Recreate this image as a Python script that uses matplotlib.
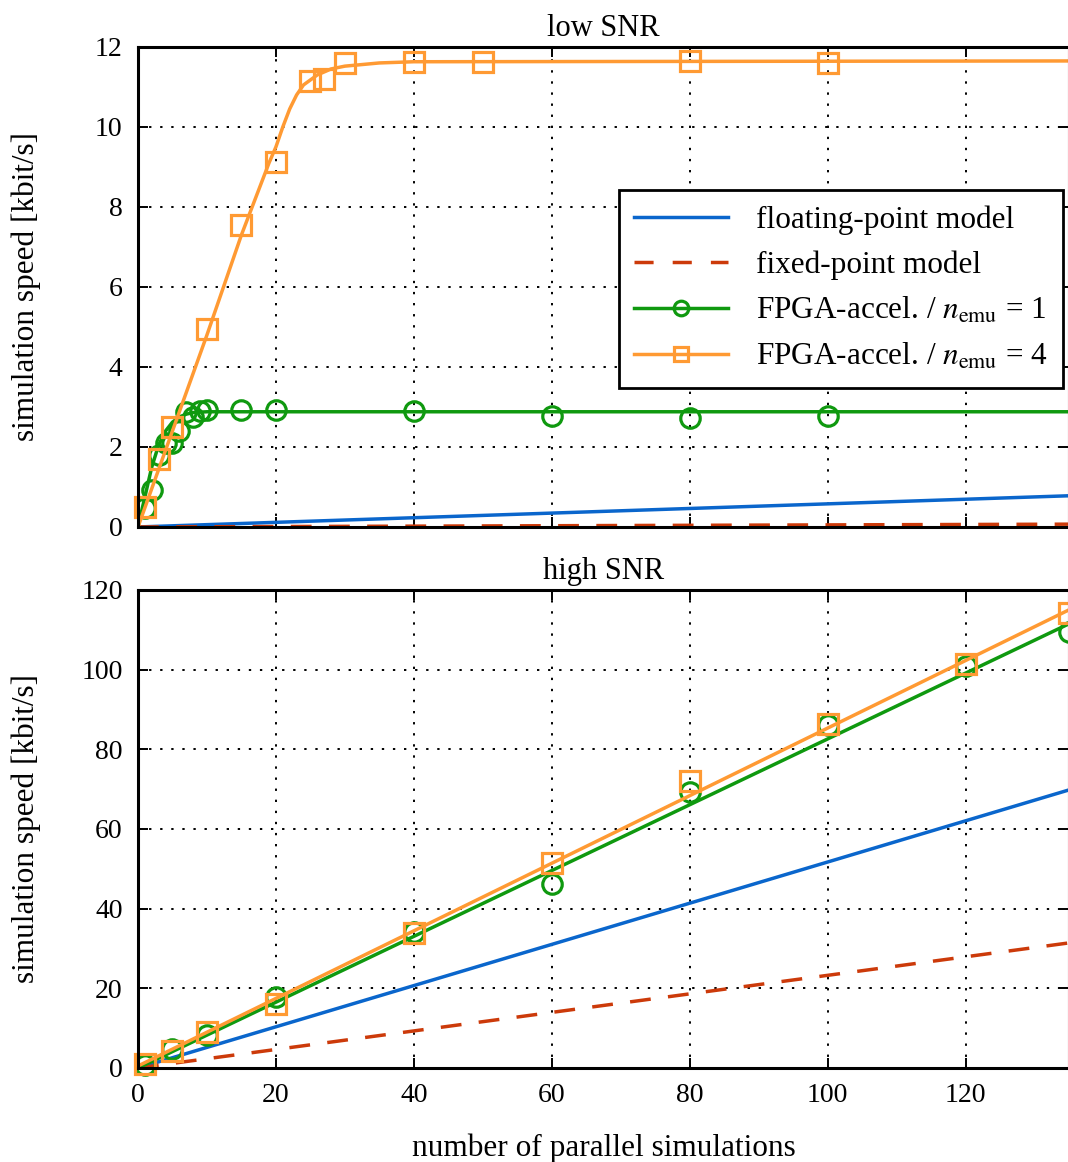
import numpy as np
import matplotlib.pyplot as plt

plt.rcParams['font.family'] = ['Liberation Serif', 'DejaVu Serif']
plt.rcParams['mathtext.fontset'] = 'stix'
plt.rcParams['font.size'] = 22

c_blue = '#0a66cc'
c_red = '#cc3a0a'
c_green = '#0f990f'
c_orange = '#ff9a33'

# ---- low SNR ----
low_float_x = [0, 135]
low_float_y = [0.0, 0.78]
low_fixed_x = [0, 135]
low_fixed_y = [0.0, 0.07]

low_fpga1_x = [1, 2, 3, 4, 5, 6, 7, 8, 9, 10, 15, 20, 40, 60, 80, 100]
low_fpga1_y = [0.47, 0.92, 1.8, 2.1, 2.1, 2.4, 2.88, 2.75, 2.9, 2.92, 2.92, 2.93, 2.9, 2.77, 2.72, 2.77]
low_fpga1_fit_x = [0, 1, 2, 3, 4, 5, 6, 7, 8, 10, 135]
low_fpga1_fit_y = [0.0, 0.75, 1.5, 2.05, 2.4, 2.62, 2.75, 2.82, 2.86, 2.88, 2.88]

low_fpga4_x = [1, 3, 5, 10, 15, 20, 25, 27, 30, 40, 50, 80, 100]
low_fpga4_y = [0.5, 1.7, 2.5, 4.95, 7.55, 9.12, 11.15, 11.2, 11.6, 11.62, 11.62, 11.65, 11.6]
low_fpga4_fit_x = [0, 10, 15, 19, 20, 21, 22, 23, 24, 26, 28, 30, 35, 40, 135]
low_fpga4_fit_y = [0.0, 4.8, 7.3, 9.1, 9.5, 10.0, 10.45, 10.8, 11.05, 11.3, 11.45, 11.52, 11.6, 11.63, 11.65]

# ---- high SNR ----
high_float_x = [0, 135]
high_float_y = [0.0, 69.8]
high_fixed_x = [0, 135]
high_fixed_y = [0.0, 31.4]

high_fpga1_x = [1, 5, 10, 20, 40, 60, 80, 100, 120, 135]
high_fpga1_y = [0.8, 4.8, 8.3, 17.8, 34.1, 46.2, 69.3, 86.0, 101.0, 109.5]
high_fpga1_fit_x = [0, 135]
high_fpga1_fit_y = [0.0, 111.5]

high_fpga4_x = [1, 5, 10, 20, 40, 60, 80, 100, 120, 135]
high_fpga4_y = [1.0, 4.3, 9.0, 16.0, 33.9, 51.5, 72.0, 86.4, 101.4, 114.2]
high_fpga4_fit_x = [0, 135]
high_fpga4_fit_y = [0.5, 115.0]

fig = plt.figure(figsize=(10.68, 11.62), dpi=100)
ax1 = fig.add_axes([0.1292, 0.5465, 0.8717, 0.4131])
ax2 = fig.add_axes([0.1292, 0.0809, 0.8717, 0.4114])

lw = 2.5
ms = 14
mew = 2.3


def draw(ax, fl, fx, g_pts, g_fit, o_pts, o_fit):
    ax.plot(fl[0], fl[1], color=c_blue, lw=lw, label='floating-point model')
    ax.plot(fx[0], fx[1], color=c_red, lw=lw, dashes=(6, 5), label='fixed-point model')
    ax.plot(g_fit[0], g_fit[1], color=c_green, lw=lw)
    ax.plot(g_pts[0], g_pts[1], ls='none', marker='o', ms=ms, mfc='none',
            mec=c_green, mew=mew, clip_on=False)
    ax.plot(o_fit[0], o_fit[1], color=c_orange, lw=lw)
    ax.plot(o_pts[0], o_pts[1], ls='none', marker='s', ms=ms, mfc='none',
            mec=c_orange, mew=mew, clip_on=False)
    ax.set_xlim(0, 135)
    ax.set_xticks([0, 20, 40, 60, 80, 100, 120])
    ax.grid(True, color='black', ls=(0, (1.2, 4.5)), lw=1.4)
    ax.tick_params(direction='in', top=True, right=True, length=7, width=1.4,
                   pad=11, labelsize=20)
    for s in ax.spines.values():
        s.set_linewidth(2.2)
    ax.set_ylabel('simulation speed [kbit/s]', fontsize=22.5)
    ax.yaxis.set_label_coords(-0.104, 0.5)


draw(ax1, (low_float_x, low_float_y), (low_fixed_x, low_fixed_y),
     (low_fpga1_x, low_fpga1_y), (low_fpga1_fit_x, low_fpga1_fit_y),
     (low_fpga4_x, low_fpga4_y), (low_fpga4_fit_x, low_fpga4_fit_y))
ax1.set_ylim(0, 12)
ax1.set_yticks([0, 2, 4, 6, 8, 10, 12])
ax1.tick_params(labelbottom=False)
ax1.set_title('low SNR', pad=8, fontsize=22)

draw(ax2, (high_float_x, high_float_y), (high_fixed_x, high_fixed_y),
     (high_fpga1_x, high_fpga1_y), (high_fpga1_fit_x, high_fpga1_fit_y),
     (high_fpga4_x, high_fpga4_y), (high_fpga4_fit_x, high_fpga4_fit_y))
ax2.set_ylim(0, 120)
ax2.set_yticks([0, 20, 40, 60, 80, 100, 120])
ax2.set_title('high SNR', pad=8, fontsize=22)
ax2.set_xlabel('number of parallel simulations', labelpad=18, fontsize=22.5)

# legend handles
h = [
    plt.Line2D([], [], color=c_blue, lw=lw),
    plt.Line2D([], [], color=c_red, lw=lw, dashes=(5.5, 5.5)),
    plt.Line2D([], [], color=c_green, lw=lw, marker='o', ms=ms * 0.75, mfc='none', mec=c_green, mew=mew),
    plt.Line2D([], [], color=c_orange, lw=lw, marker='s', ms=ms * 0.75, mfc='none', mec=c_orange, mew=mew),
]
labels = ['floating-point model', 'fixed-point model',
          r'FPGA-accel. / $n_{\mathrm{emu}}$ = 1', r'FPGA-accel. / $n_{\mathrm{emu}}$ = 4']
leg = ax1.legend(h, labels, loc='upper right', bbox_to_anchor=(0.994, 0.702),
                 borderaxespad=0, fancybox=False, framealpha=1, edgecolor='black',
                 handlelength=3.0, borderpad=0.5, labelspacing=0.5,
                 handletextpad=0.9, fontsize=22.5)
leg.get_frame().set_linewidth(2.0)

fig.savefig('out.png', dpi=100)
